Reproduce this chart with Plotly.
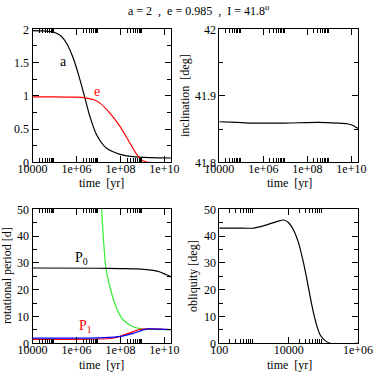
import numpy as np
import plotly.graph_objects as go

# --- data (log10 of time in yr) ---
a_logt = [4.0, 4.5, 4.95, 5.3, 5.55, 5.86, 6.16, 6.39, 6.61, 6.92, 7.37, 7.98, 8.58, 9.33, 10.3]
a_val = [1.98, 1.975, 1.96, 1.9, 1.79, 1.56, 1.24, 0.96, 0.69, 0.41, 0.21, 0.12, 0.085, 0.07, 0.065]

e_logt = [4.0, 5.0, 6.0, 6.4, 6.8, 7.07, 7.52, 7.98, 8.43, 8.73, 8.96, 9.2, 9.35]
e_val = [0.985, 0.985, 0.98, 0.97, 0.94, 0.89, 0.74, 0.54, 0.29, 0.125, 0.035, 0.005, 0.0]

inc_logt = [4.0, 4.8, 5.5, 7.0, 8.5, 9.35, 9.8, 10.1, 10.3]
inc_val = [41.861, 41.860, 41.859, 41.859, 41.860, 41.859, 41.858, 41.855, 41.851]

p0_logt = [4.0, 7.0, 8.0, 8.7, 9.2, 9.5, 9.8, 10.0, 10.2, 10.3]
p0_val = [28.1, 28.0, 27.9, 27.8, 27.5, 27.2, 26.6, 25.9, 25.2, 24.8]

green_logt = [7.0, 7.144, 7.22, 7.34, 7.52, 7.83, 8.13, 8.58, 9.04, 9.3, 10.3]
green_val = [70.0, 50.0, 39.8, 28.0, 21.0, 13.0, 8.7, 6.2, 5.3, 5.2, 5.1]

p1_logt = [4.0, 6.0, 7.0, 7.5, 7.9, 8.13, 8.4, 8.58, 8.89, 9.2, 9.8, 10.3]
p1_val = [1.5, 1.5, 1.6, 1.8, 2.4, 3.1, 3.8, 4.35, 5.2, 5.35, 5.3, 5.1]

blue_logt = [4.0, 6.0, 7.0, 7.5, 7.9, 8.13, 8.58, 8.9, 9.04, 9.3, 9.8, 10.3]
blue_val = [1.9, 1.9, 2.0, 2.2, 2.5, 2.8, 3.7, 4.6, 5.0, 5.35, 5.3, 5.15]

obl_logt = [2.0, 2.5, 3.0, 3.37, 3.66, 3.86, 4.0, 4.14, 4.29, 4.43, 4.53, 4.62, 4.72, 4.82, 4.91, 5.06, 5.2, 6.0]
obl_val = [43, 43, 43, 44.2, 45.4, 46, 45.0, 42.3, 37.3, 29.9, 23.6, 17.4, 11.2, 6.2, 3.1, 0.9, 0, 0]

FONT = "Liberation Serif"

fig = go.Figure()


def t(logs):
    return [10 ** v for v in logs]


def line(xa, ya, logs, vals, color):
    fig.add_trace(go.Scatter(
        x=t(logs), y=vals, mode="lines", xaxis=xa, yaxis=ya,
        line=dict(color=color, width=1.2, shape="spline", smoothing=0.7),
        showlegend=False, hoverinfo="skip"))


line("x", "y", a_logt, a_val, "black")
line("x", "y", e_logt, e_val, "#ff0000")
line("x2", "y2", inc_logt, inc_val, "black")
line("x3", "y3", green_logt, green_val, "#33ee33")
line("x3", "y3", p0_logt, p0_val, "black")
line("x3", "y3", p1_logt, p1_val, "#ff0000")
line("x3", "y3", blue_logt, blue_val, "#0000ff")
line("x4", "y4", obl_logt, obl_val, "black")

W, H = 374, 373
xl = [32.5 / W, 171 / W]
xr = [219.3 / W, 358 / W]
yt = [1 - 162.3 / H, 1 - 29.3 / H]
yb = [1 - 343.3 / H, 1 - 209.3 / H]

common = dict(showline=True, linecolor="black", linewidth=1, mirror="allticks",
              ticks="inside", ticklen=6, tickcolor="black", showgrid=False,
              zeroline=False, automargin=False,
              tickfont=dict(family=FONT, size=12, color="black"))

long_major = [1e4, 1e6, 1e8, 1e10]
long_text = ["10000", "1e+06", "1e+08", "1e+10"]
long_minor = [k * 10 ** d for d in (4, 6, 8) for k in range(2, 10)]

short_major = [1e2, 1e4, 1e6]
short_text = ["100", "10000", "1e+06"]
short_minor = [k * 10 ** d for d in (2, 4) for k in range(2, 10)]


def xaxis(domain, anchor, rng, major, text, minor):
    return dict(common, domain=domain, anchor=anchor, type="log", range=rng,
                tickmode="array", tickvals=major, ticktext=text, ticklabelstandoff=-5,
                minor=dict(tickmode="array", tickvals=minor, ticks="inside", ticklen=4, tickcolor="black"))


def yaxis(domain, anchor, rng, dtick, minor_dtick):
    return dict(common, domain=domain, anchor=anchor, range=rng, dtick=dtick,
                minor=dict(dtick=minor_dtick, ticks="inside", ticklen=4, tickcolor="black"))


fig.update_layout(
    width=W, height=H,
    margin=dict(l=0, r=0, t=0, b=0),
    paper_bgcolor="white", plot_bgcolor="white",
    font=dict(family=FONT, size=12, color="black"),
    xaxis=xaxis(xl, "y", [4, 10.3], long_major, long_text, long_minor),
    yaxis=yaxis(yt, "x", [0, 2], 0.5, 0.25),
    xaxis2=xaxis(xr, "y2", [4, 10.3], long_major, long_text, long_minor),
    yaxis2=yaxis(yt, "x2", [41.8, 42], 0.1, 0.05),
    xaxis3=xaxis(xl, "y3", [4, 10.3], long_major, long_text, long_minor),
    yaxis3=yaxis(yb, "x3", [0, 50], 10, 5),
    xaxis4=xaxis(xr, "y4", [2, 6], short_major, short_text, short_minor),
    yaxis4=yaxis(yb, "x4", [0, 50], 10, 5),
)

# curve labels
labels = [
    ("x", "y", 5.39, 1.51, "a", "black"),
    ("x", "y", 6.93, 1.07, "e", "#ff0000"),
    ("x3", "y3", 6.24, 31.7, "P<sub>0</sub>", "black"),
    ("x3", "y3", 6.42, 6.1, "P<sub>1</sub>", "#ff0000"),
]
for xr_, yr_, xv, yv, txt, col in labels:
    fig.add_annotation(x=xv, y=yv, xref=xr_, yref=yr_, text=txt, showarrow=False,
                       xanchor="center", yanchor="middle",
                       font=dict(family=FONT, size=14, color=col))

# axis titles and header, placed in paper pixels
titles = [
    (102, 183, 0, "time \u00a0[yr]"),
    (289, 183, 0, "time \u00a0[yr]"),
    (102, 365, 0, "time \u00a0[yr]"),
    (289, 365, 0, "time \u00a0[yr]"),
    (185, 96, -90, "inclination \u00a0[deg]"),
    (7, 276, -90, "rotational period [d]"),
    (193, 276, -90, "obliquity [deg]"),
    (198, 10, 0, "a = 2 \u00a0, \u00a0e = 0.985 \u00a0, \u00a0I = 41.8<sup>o</sup>"),
]
for px, py, ang, txt in titles:
    fig.add_annotation(x=px / W, y=1 - py / H, xref="paper", yref="paper", text=txt,
                       textangle=ang, showarrow=False, xanchor="center", yanchor="middle",
                       font=dict(family=FONT, size=12, color="black"))

fig.write_html("out.html", config={"displayModeBar": False},
               post_script="document.body.style.margin='0';")
